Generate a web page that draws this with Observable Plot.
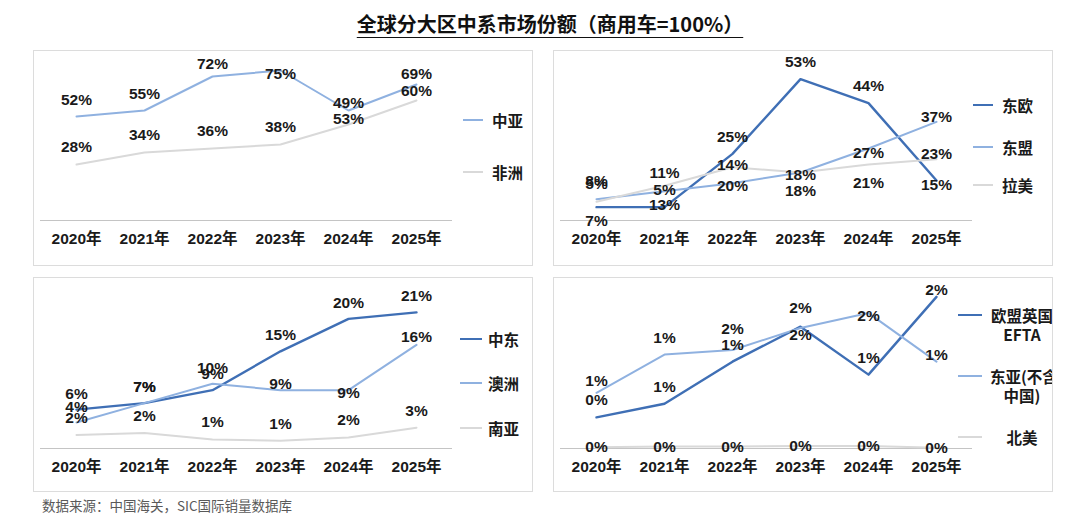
<!DOCTYPE html>
<html>
<head>
<meta charset="utf-8">
<script src="https://cdn.jsdelivr.net/npm/d3@7"></script>
<script src="https://cdn.jsdelivr.net/npm/@observablehq/plot@0.6"></script>
<style>
  body { margin: 0; background: #fff; }
  #root { position: relative; width: 1080px; height: 516px; background: #fff; overflow: hidden;
          font-family: "Liberation Sans", Arial, "Noto Sans CJK SC", sans-serif; color: #1a1a1a; }
  .title { position: absolute; left: 0; top: 10px; width: 1100px; text-align: center;
           font-family: "Noto Sans CJK SC", sans-serif; font-weight: 700; font-size: 20px; line-height: 28px; color: #111; }
  .title span { text-decoration: underline; text-underline-offset: 5px; text-decoration-thickness: 1px; }
  .panel { position: absolute; box-sizing: border-box; border: 1px solid #dcdcdc; overflow: hidden; background: #fff; }
  .panel svg { position: absolute; left: 0; top: 0; }
  .leg { position: absolute; font-family: "Noto Sans CJK SC", sans-serif; font-weight: 700; font-size: 15.5px;
         line-height: 19px; white-space: nowrap; color: #1a1a1a; }
  .sw { position: absolute; height: 2px; }
  .source { position: absolute; left: 42px; top: 495px; font-family: "Noto Sans CJK SC", sans-serif;
            font-size: 13.5px; line-height: 20px; color: #595959; }
</style>
</head>
<body>
<div id="root">
  <div class="title"><span>全球分大区中系市场份额（商用车=100%）</span></div>
  <div class="source">数据来源：中国海关，SIC国际销量数据库</div>
</div>
<script>
// ---------- data ----------
const years = ["2020年", "2021年", "2022年", "2023年", "2024年", "2025年"];

// Panel 1
const zhongyaVals   = [52, 55, 72, 75, 55, 68];
const zhongyaLabels = ["52%", "55%", "72%", "75%", "49%", "69%"];
const feizhouVals   = [28, 34, 36, 38, 48, 60];
const feizhouLabels = ["28%", "34%", "36%", "38%", "53%", "60%"];

// Panel 2
const dongouVals     = [5, 5, 25, 53, 44, 15];
const dongouLabels   = ["5%", "5%", "25%", "53%", "44%", "15%"];
const dongmengVals   = [8, 11, 14, 18, 27, 37];
const dongmengLabels = ["8%", "11%", "14%", "18%", "27%", "37%"];
const lameiVals      = [7, 13, 20, 18, 21, 23];
const lameiLabels    = ["7%", "13%", "20%", "18%", "21%", "23%"];

// Panel 3
const zhongdongVals   = [6, 7, 9, 15, 20, 21];
const zhongdongLabels = ["6%", "7%", "9%", "15%", "20%", "21%"];
const aozhouVals      = [4, 7, 10, 9, 9, 16];
const aozhouLabels    = ["4%", "7%", "10%", "9%", "9%", "16%"];
const nanyaVals       = [2.1, 2.4, 1.4, 1.2, 1.7, 3.2];
const nanyaLabels     = ["2%", "2%", "1%", "1%", "2%", "3%"];

// Panel 4
const euVals         = [0.48, 0.69, 1.34, 1.88, 1.14, 2.34];
const euLabels       = ["0%", "1%", "1%", "2%", "1%", "2%"];
const eastAsiaVals   = [0.86, 1.45, 1.52, 1.86, 2.09, 1.34];
const eastAsiaLabels = ["1%", "1%", "2%", "2%", "2%", "1%"];
const northAmVals    = [0.02, 0.03, 0.03, 0.04, 0.04, 0.01];
const northAmLabels  = ["0%", "0%", "0%", "0%", "0%", "0%"];

// ---------- styles ----------
const DARK = "#3f6fb5", MID = "#8fb1e0", GRAY = "#d9d9d9";
const FONT = '"Liberation Sans", Arial, "Noto Sans CJK SC", sans-serif';

const root = document.getElementById("root");

function makePanel(cfg) {
  const div = document.createElement("div");
  div.className = "panel";
  Object.assign(div.style, { left: cfg.left + "px", top: cfg.top + "px", width: "500px", height: cfg.h + "px" });
  const svgH = cfg.h - 2;
  const rows = s => years.map((yr, i) => ({ year: yr, value: s.vals[i], label: s.labels[i], i }));
  const marks = [Plot.ruleY([0], { stroke: "#c4c4c4", strokeWidth: 1 })];
  for (const s of cfg.series) {
    marks.push(Plot.line(rows(s), { x: "year", y: "value", stroke: s.color, strokeWidth: s.width }));
  }
  for (const s of cfg.series) {
    // label offset per point (default dy, with optional per-point placement overrides)
    const place = s.place || {};
    const dys = new Map();
    for (const r of rows(s)) {
      const d = r.i in place ? place[r.i] : s.dy;
      if (!dys.has(d)) dys.set(d, []);
      dys.get(d).push(r);
    }
    for (const [d, data] of dys) {
      marks.push(Plot.text(data, { x: "year", y: "value", text: "label", dy: d,
        fontSize: 15.5, fontWeight: "bold", fill: "#1a1a1a" }));
    }
  }
  marks.push(Plot.axisX({ tickSize: 0, tickPadding: 12, fontSize: 15.5, fontWeight: "bold", label: null }));
  const svg = Plot.plot({
    width: 424, height: svgH,
    marginLeft: 6, marginRight: 6, marginTop: cfg.mt, marginBottom: svgH - cfg.zero,
    x: { type: "point", domain: years, padding: 0.5 },
    y: { domain: [0, cfg.ymax], axis: null },
    style: { fontFamily: FONT, color: "#1a1a1a", background: "transparent", overflow: "visible" },
    marks
  });
  div.appendChild(svg);
  // legend
  for (const lg of cfg.legend) {
    const s = cfg.series[lg.i];
    const sw = document.createElement("div");
    sw.className = "sw";
    Object.assign(sw.style, { left: cfg.legX0 + "px", width: (cfg.legX1 - cfg.legX0) + "px",
      top: (lg.y - 1) + "px", background: s.color });
    div.appendChild(sw);
    const t = document.createElement("div");
    t.className = "leg";
    t.innerHTML = s.name;
    Object.assign(t.style, { left: cfg.legTx + "px", top: (lg.y - 9.5) + "px" });
    if (cfg.legW) { t.style.width = cfg.legW + "px"; t.style.textAlign = "center"; }
    div.appendChild(t);
  }
  root.appendChild(div);
}

makePanel({
  left: 33, top: 50, h: 216, zero: 169, mt: 9, ymax: 80,
  series: [
    { name: "中亚", vals: zhongyaVals, labels: zhongyaLabels, color: MID, width: 2, dy: -16,
      place: { 2: -12, 3: 4, 4: -7, 5: -10 } },
    { name: "非洲", vals: feizhouVals, labels: feizhouLabels, color: GRAY, width: 2, dy: -17,
      place: { 4: -5, 5: -9 } }
  ],
  legX0: 429, legX1: 449, legTx: 458,
  legend: [{ i: 0, y: 69 }, { i: 1, y: 121 }]
});

makePanel({
  left: 553, top: 50, h: 216, zero: 169, mt: 9, ymax: 60,
  series: [
    { name: "东欧", vals: dongouVals, labels: dongouLabels, color: DARK, width: 2.4, dy: -17,
      place: { 0: -23, 5: 5 } },
    { name: "东盟", vals: dongmengVals, labels: dongmengLabels, color: MID, width: 2, dy: -18,
      place: { 3: 3, 4: 5, 5: -5 } },
    { name: "拉美", vals: lameiVals, labels: lameiLabels, color: GRAY, width: 2, dy: 19,
      place: { 5: -5 } }
  ],
  legX0: 419, legX1: 439, legTx: 448,
  legend: [{ i: 0, y: 54 }, { i: 1, y: 96 }, { i: 2, y: 134 }]
});

makePanel({
  left: 33, top: 277, h: 215, zero: 170, mt: 8, ymax: 25,
  series: [
    { name: "中东", vals: zhongdongVals, labels: zhongdongLabels, color: DARK, width: 2.4, dy: -16 },
    { name: "澳洲", vals: aozhouVals, labels: aozhouLabels, color: MID, width: 2, dy: -16,
      place: { 3: -6, 4: 3, 5: -8 } },
    { name: "南亚", vals: nanyaVals, labels: nanyaLabels, color: GRAY, width: 2, dy: -17 }
  ],
  legX0: 426, legX1: 448, legTx: 454,
  legend: [{ i: 0, y: 61 }, { i: 1, y: 105 }, { i: 2, y: 150 }]
});

makePanel({
  left: 553, top: 277, h: 215, zero: 170, mt: 8, ymax: 2.5,
  series: [
    { name: "欧盟英国<br>EFTA", vals: euVals, labels: euLabels, color: DARK, width: 2.4, dy: -17,
      place: { 3: 8, 5: -7 } },
    { name: "东亚(不含<br>中国)", vals: eastAsiaVals, labels: eastAsiaLabels, color: MID, width: 2, dy: -17,
      place: { 0: -12, 2: -21, 3: -20, 4: 3, 5: -7 } },
    { name: "北美", vals: northAmVals, labels: northAmLabels, color: GRAY, width: 2, dy: 0 }
  ],
  legX0: 404, legX1: 428, legTx: 436, legW: 64,
  legend: [{ i: 0, y: 37 }, { i: 1, y: 98 }, { i: 2, y: 159 }]
});
</script>
</body>
</html>
